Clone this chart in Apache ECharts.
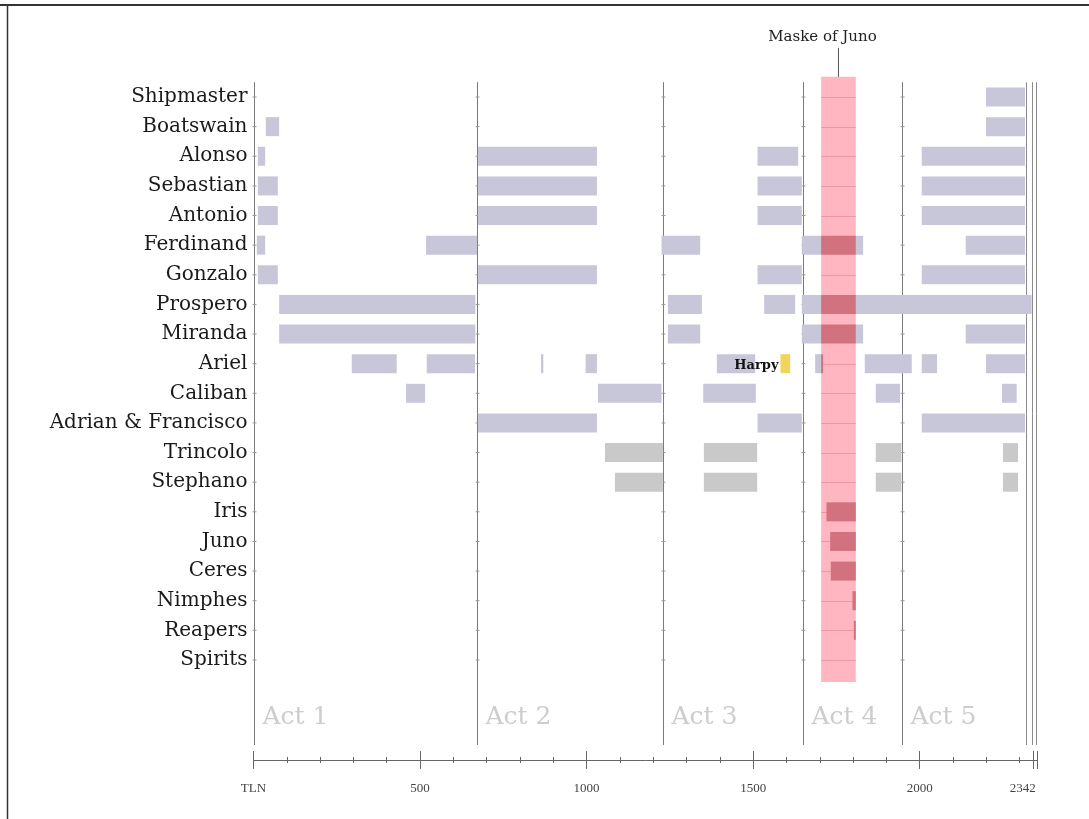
<!DOCTYPE html>
<html>
<head>
<meta charset="utf-8">
<title>The Tempest - characters on stage</title>
<script src="https://cdn.jsdelivr.net/npm/echarts@6/dist/echarts.min.js"></script>
<style>
  html, body { margin: 0; padding: 0; background: #fff; }
  #chart { width: 1089px; height: 819px; }
</style>
</head>
<body>
<div id="chart"></div>
<script>
// characters, top to bottom
const characters = ['Shipmaster', 'Boatswain', 'Alonso', 'Sebastian', 'Antonio', 'Ferdinand', 'Gonzalo',
  'Prospero', 'Miranda', 'Ariel', 'Caliban', 'Adrian & Francisco', 'Trincolo', 'Stephano',
  'Iris', 'Juno', 'Ceres', 'Nimphes', 'Reapers', 'Spirits'];

// time on stage, [first TLN, last TLN], one list per character
const shipmaster = [[2199, 2316]];
const boatswain = [[37, 77], [2199, 2316]];
const alonso = [[13, 35], [674, 1031], [1513, 1635], [2006, 2316]];
const sebastian = [[13, 73], [674, 1031], [1513, 1646], [2006, 2316]];
const antonio = [[13, 73], [674, 1031], [1513, 1646], [2006, 2316]];
const ferdinand = [[10, 35], [518, 671], [1225, 1341], [1646, 1830], [2138, 2316]];
const gonzalo = [[13, 73], [674, 1031], [1513, 1646], [2006, 2316]];
const prospero = [[77, 666], [1244, 1346], [1533, 1626], [1646, 2336]];
const miranda = [[77, 666], [1244, 1341], [1646, 1830], [2138, 2316]];
const ariel = [[295, 430], [520, 665], [863, 870], [997, 1031], [1391, 1506], [1686, 1706],
  [1835, 1976], [2006, 2052], [2199, 2316]];
const caliban = [[458, 515], [1034, 1225], [1350, 1508], [1868, 1941], [2247, 2291]];
const adrianFrancisco = [[674, 1031], [1513, 1646], [2006, 2316]];
const trincolo = [[1055, 1229], [1352, 1512], [1868, 1945], [2250, 2295]];
const stephano = [[1085, 1229], [1352, 1512], [1868, 1945], [2250, 2295]];
const iris = [[1720, 1808]];
const juno = [[1731, 1808]];
const ceres = [[1733, 1808]];
const nimphes = [[1798, 1808]];
const reapers = [[1802, 1808]];
const spirits = [];

const appearances = [shipmaster, boatswain, alonso, sebastian, antonio, ferdinand, gonzalo,
  prospero, miranda, ariel, caliban, adrianFrancisco, trincolo, stephano,
  iris, juno, ceres, nimphes, reapers, spirits];

const harpy = [1582, 1611];
const harpyRow = 'Ariel';
const maske = [1704, 1808];
const maskeLabel = 'Maske of Juno';

const actNames = ['Act 1', 'Act 2', 'Act 3', 'Act 4', 'Act 5'];
const actStarts = [0, 671, 1229, 1650, 1947];
const endLines = [2318, 2336, 2348];

const tlnMax = 2352;
const labelValues = [0, 500, 1000, 1500, 2000, 2342];
const majorTicks = [0, 500, 1000, 1500, 2000, 2340, 2352];
const minorTicks = [100, 200, 300, 400, 600, 700, 800, 900, 1100, 1200, 1300, 1400,
  1600, 1700, 1800, 1900, 2100, 2200, 2300];

// ---- styles
const LAVENDER = '#c7c7d9';
const GREY = '#c9c9c9';
const greyRows = ['Trincolo', 'Stephano'];
const PINK = '#ffb6c0';
const PINK_LINE = '#ee97a3';
const DARK_RED = '#d2727f';
const BAR_H = 19;
const SERIF = 'DejaVu Serif';

const rowIdx = characters.map((_, i) => i);
const yMax = 21.87;

const barData = [];
const overlapData = [];
appearances.forEach((list, row) => {
  list.forEach(([s, e]) => {
    barData.push([row, s, e]);
    const a = Math.max(s, maske[0]);
    const b = Math.min(e, maske[1]);
    if (b > a) overlapData.push([row, a, b]);
  });
});

function rectItem(api, color) {
  const row = api.value(0);
  const p0 = api.coord([api.value(1), row]);
  const p1 = api.coord([api.value(2), row]);
  return {
    type: 'rect',
    shape: { x: p0[0], y: p0[1] - BAR_H / 2, width: Math.max(p1[0] - p0[0], 2), height: BAR_H },
    style: { fill: color }
  };
}

const chart = echarts.init(document.getElementById('chart'), null, { renderer: 'canvas' });

// the TLN axis is drawn by four stacked axes (major/minor ticks, up/down), one grid each
const gridBox = { left: 253.5, right: 52, top: 82.2, bottom: 74, containLabel: false, outerBoundsMode: 'none' };
const tickAxis = (gi, ticks, len, inside) => ({
  type: 'value', gridIndex: gi, min: 0, max: tlnMax, position: 'bottom', offset: 15,
  splitLine: { show: false }, axisLine: { show: false, onZero: false }, axisLabel: { show: false },
  axisTick: { show: true, inside, length: len, customValues: ticks, lineStyle: { color: '#666' } }
});
const hiddenY = gi => ({ type: 'value', gridIndex: gi, inverse: true, min: -0.5, max: yMax, show: false });

const mainX = tickAxis(0, majorTicks, 9, false);
mainX.axisLine = { show: true, onZero: false, lineStyle: { color: '#666', width: 1 } };
mainX.axisLabel = {
  show: true, customValues: labelValues, margin: 22,
  fontFamily: 'Liberation Serif', fontSize: 13, color: '#444',
  formatter: v => (v === 0 ? 'TLN' : v === labelValues[labelValues.length - 1] ? '{end|' + v + '}' : String(v)),
  rich: { end: { fontFamily: 'Liberation Serif', fontSize: 13, color: '#444', padding: [0, 22, 0, 0] } }
};

chart.setOption({
  animation: false,
  backgroundColor: '#fff',
  grid: [gridBox, gridBox, gridBox, gridBox],
  xAxis: [
    mainX,
    tickAxis(1, majorTicks, 9, true),
    tickAxis(2, minorTicks, 3, false),
    tickAxis(3, minorTicks, 3, true)
  ],
  yAxis: [{
    type: 'value', gridIndex: 0, inverse: true, min: -0.5, max: yMax,
    axisLine: { show: false }, axisTick: { show: false }, splitLine: { show: false },
    axisLabel: {
      customValues: rowIdx, margin: 6,
      fontFamily: SERIF, fontSize: 20, color: '#1a1a1a',
      formatter: v => characters[v]
    }
  }, hiddenY(1), hiddenY(2), hiddenY(3)],
  graphic: [
    { type: 'line', shape: { x1: 0, y1: 5, x2: 1089, y2: 5 }, style: { stroke: '#333', lineWidth: 2 } },
    { type: 'line', shape: { x1: 7.5, y1: 5, x2: 7.5, y2: 819 }, style: { stroke: '#333', lineWidth: 1.5 } }
  ],
  series: [
    {
      // act divisions
      type: 'custom', z: 1, clip: false,
      data: actStarts.map((s, i) => [s, i]),
      encode: { x: 0 },
      renderItem: (params, api) => {
        const x = Math.round(api.coord([api.value(0), 0])[0]) + 0.5;
        const top = api.coord([0, -0.5])[1];
        const bottom = api.coord([0, yMax])[1];
        const children = [{
          type: 'line', shape: { x1: x, y1: top, x2: x, y2: bottom },
          style: { stroke: '#7a7a7a', lineWidth: 1 }
        }];
        rowIdx.forEach(r => {
          const y = api.coord([0, r])[1];
          children.push({ type: 'line', shape: { x1: x - 2, y1: y, x2: x + 2, y2: y }, style: { stroke: '#999', lineWidth: 1 } });
        });
        children.push({
          type: 'text',
          style: {
            x: x + 8, y: api.coord([0, 20.95])[1], text: actNames[api.value(1)],
            fontFamily: SERIF, fontSize: 25, fill: '#cdcdcd', verticalAlign: 'middle'
          }
        });
        return { type: 'group', children };
      }
    },
    {
      // closing rules
      type: 'custom', z: 1, clip: false,
      data: endLines.map(v => [v]),
      encode: { x: 0 },
      renderItem: (params, api) => {
        const x = Math.round(api.coord([api.value(0), 0])[0]) + 0.5;
        return {
          type: 'line',
          shape: { x1: x, y1: api.coord([0, -0.5])[1], x2: x, y2: api.coord([0, yMax])[1] },
          style: { stroke: '#8a8a8a', lineWidth: 1 }
        };
      }
    },
    {
      type: 'custom', z: 2,
      data: barData,
      encode: { x: [1, 2], y: 0 },
      renderItem: (params, api) => rectItem(api, greyRows.includes(characters[api.value(0)]) ? GREY : LAVENDER)
    },
    {
      // the masque band
      type: 'custom', z: 3, clip: false,
      data: [maske],
      encode: { x: [0, 1] },
      renderItem: (params, api) => {
        const x0 = api.coord([api.value(0), 0])[0];
        const x1 = api.coord([api.value(1), 0])[0];
        const top = api.coord([0, -0.68])[1];
        const bottom = api.coord([0, characters.length - 1 + 0.74])[1];
        const cx = (x0 + x1) / 2;
        const children = [{
          type: 'rect', shape: { x: x0, y: top, width: x1 - x0, height: bottom - top },
          style: { fill: PINK }
        }];
        rowIdx.forEach(r => {
          const y = Math.round(api.coord([0, r])[1]) + 0.5;
          children.push({ type: 'line', shape: { x1: x0, y1: y, x2: x1, y2: y }, style: { stroke: PINK_LINE, lineWidth: 1 } });
        });
        children.push({
          type: 'line', shape: { x1: cx, y1: top - 29, x2: cx, y2: top },
          style: { stroke: '#555', lineWidth: 1 }
        });
        children.push({
          type: 'text',
          style: {
            x: cx - 16, y: top - 40, text: maskeLabel, align: 'center', verticalAlign: 'middle',
            fontFamily: SERIF, fontSize: 15, fill: '#222'
          }
        });
        return { type: 'group', children };
      }
    },
    {
      type: 'custom', z: 4,
      data: overlapData,
      encode: { x: [1, 2], y: 0 },
      renderItem: (params, api) => rectItem(api, DARK_RED)
    },
    {
      // Harpy
      type: 'custom', z: 5,
      data: [[characters.indexOf(harpyRow), harpy[0], harpy[1]]],
      encode: { x: [1, 2], y: 0 },
      renderItem: (params, api) => {
        const r = rectItem(api, '#f2d35c');
        const p0 = api.coord([api.value(1), api.value(0)]);
        return {
          type: 'group',
          children: [r, {
            type: 'text',
            style: {
              x: p0[0] - 2, y: p0[1] + 2, text: 'Harpy', align: 'right', verticalAlign: 'middle',
              fontFamily: SERIF, fontSize: 13, fontWeight: 'bold', fill: '#111'
            }
          }]
        };
      }
    }
  ]
});
</script>
</body>
</html>
